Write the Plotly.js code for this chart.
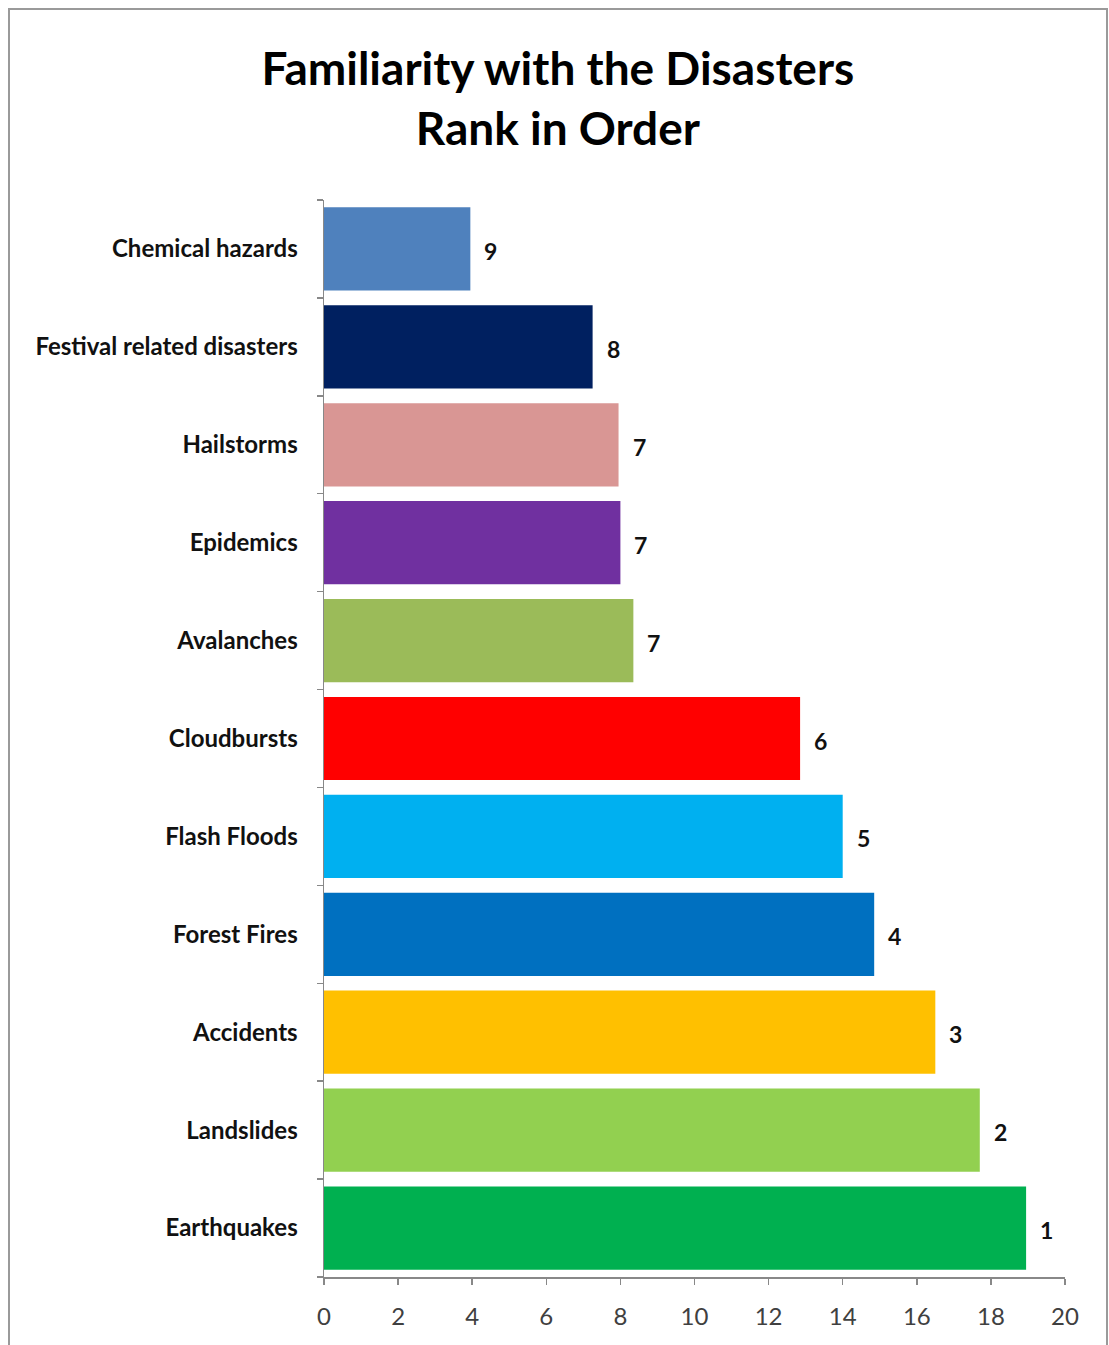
<!DOCTYPE html>
<html>
<head>
<meta charset="utf-8">
<script src="https://cdn.plot.ly/plotly-3.0.1.min.js"></script>
<style>
  html, body { margin: 0; padding: 0; background: #fff; }
  #wrap { position: relative; width: 1109px; height: 1345px; }
  #chart { width: 1109px; height: 1345px; }
  #frame { position: absolute; left: 8px; top: 8px; width: 1096px; height: 1345px;
           border: 2px solid #9a9a9a; border-bottom: none; pointer-events: none; }
</style>
</head>
<body>
<div id="wrap">
  <div id="chart"></div>
  <div id="frame"></div>
</div>
<script>
// Categories listed bottom to top
const categories = ["Earthquakes", "Landslides", "Accidents", "Forest Fires", "Flash Floods",
  "Cloudbursts", "Avalanches", "Epidemics", "Hailstorms", "Festival related disasters", "Chemical hazards"];
const values = [18.95, 17.7, 16.5, 14.85, 14.0, 12.85, 8.35, 8.0, 7.95, 7.25, 3.95];
const ranks = ["1", "2", "3", "4", "5", "6", "7", "7", "7", "8", "9"];
const colors = ["#00B050", "#92D050", "#FFC000", "#0070C0", "#00B0F0",
  "#FF0000", "#9BBB59", "#7030A0", "#D99694", "#002060", "#4F81BD"];
const xTicks = [0, 2, 4, 6, 8, 10, 12, 14, 16, 18, 20];

const font = 'Lato, "Open Sans", sans-serif';

const trace = {
  type: 'bar',
  orientation: 'h',
  y: categories,
  x: values,
  marker: { color: colors, line: { width: 0 } },
  hoverinfo: 'none',
  showlegend: false
};

const annotations = categories.map((c, i) => ({
  x: values[i], y: c, xref: 'x', yref: 'y',
  text: '<b>' + ranks[i] + '</b>',
  showarrow: false, xanchor: 'left', xshift: 12, yshift: -2,
  font: { family: font, size: 23, color: '#111' }
}));

const layout = {
  width: 1109, height: 1345,
  margin: { l: 324, r: 44, t: 200, b: 68 },
  paper_bgcolor: '#fff', plot_bgcolor: '#fff',
  title: {
    text: '<b>Familiarity with the Disasters<br>Rank in Order</b>',
    x: 0.503, xanchor: 'center', y: 0.937, yanchor: 'middle',
    font: { family: font, size: 46, color: '#000' }
  },
  bargap: 0.15,
  xaxis: {
    range: [0, 20], tickvals: xTicks, ticktext: xTicks.map(String),
    showgrid: false, zeroline: false,
    showline: true, linecolor: '#888', linewidth: 1.5,
    ticks: 'outside', ticklen: 6, tickcolor: '#888', tickwidth: 1.5,
    ticklabelstandoff: 12,
    tickfont: { family: font, size: 24, color: '#404040' }
  },
  yaxis: {
    type: 'category', categoryorder: 'array', categoryarray: categories,
    showgrid: false, zeroline: false,
    showline: true, linecolor: '#888', linewidth: 1.5,
    ticks: 'outside', ticklen: 6, tickcolor: '#888', tickwidth: 1.5,
    tickson: 'boundaries', ticklabelstandoff: 20,
    tickfont: { family: font, size: 24, color: '#111', weight: 'bold' }
  },
  annotations: annotations
};

Plotly.newPlot('chart', [trace], layout, { displayModeBar: false, staticPlot: true });
</script>
</body>
</html>
